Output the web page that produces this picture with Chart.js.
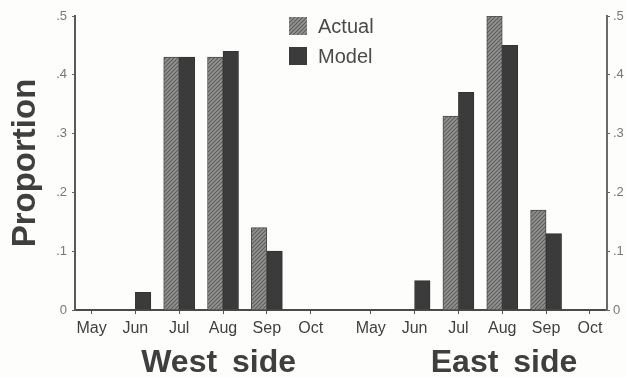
<!DOCTYPE html>
<html>
<head>
<meta charset="utf-8">
<script src="https://cdn.jsdelivr.net/npm/chart.js@4"></script>
<style>
    html, body { margin: 0; padding: 0; background: #fdfdfc; }
    #wrap { position: relative; width: 626px; height: 377px; }
</style>
</head>
<body>
<div id="wrap"><canvas id="chart" width="626" height="377"></canvas></div>
<script>
const months = ["May", "Jun", "Jul", "Aug", "Sep", "Oct"];
const westActual = [0, 0, 0.43, 0.43, 0.14, 0];
const westModel = [0, 0.03, 0.43, 0.44, 0.10, 0];
const eastActual = [0, 0, 0.33, 0.50, 0.17, 0];
const eastModel = [0, 0.05, 0.37, 0.45, 0.13, 0];
const panelTitles = ["West side", "East side"];

const FONT = '"Liberation Sans", Arial, sans-serif';
// the east months start a bit more than one slot after the west ones
const EAST_SHIFT = 6.37;
const labels = months.concat(months);
const slots = months.map((m, i) => i).concat(months.map((m, i) => i + EAST_SHIFT));

function hatch() {
    const c = document.createElement("canvas");
    c.width = 4;
    c.height = 4;
    const g = c.getContext("2d");
    g.fillStyle = "#939391";
    g.fillRect(0, 0, 4, 4);
    g.strokeStyle = "#5c5c5c";
    g.lineWidth = 1.1;
    g.beginPath();
    g.moveTo(-1, 1);
    g.lineTo(1, -1);
    g.moveTo(-1, 5);
    g.lineTo(5, -1);
    g.moveTo(3, 5);
    g.lineTo(5, 3);
    g.stroke();
    return g.createPattern(c, "repeat");
}

const hatchFill = hatch();

function series(west, east) {
    return west.concat(east).map((v, i) => ({ x: slots[i], y: v }));
}

const sideText = {
    id: "sideText",
    afterDraw(chart) {
        const { ctx, scales } = chart;
        ctx.save();
        ctx.fillStyle = "#3f3f3f";
        ctx.textBaseline = "alphabetic";
        ctx.textAlign = "center";
        ctx.font = "bold 32px " + FONT;
        ctx.wordSpacing = "6px";
        ctx.fillText(panelTitles[0], scales.x.getPixelForValue(2.9), 372);
        ctx.fillText(panelTitles[1], scales.x.getPixelForValue(EAST_SHIFT + 3.04), 372);
        ctx.wordSpacing = "0px";

        // legend sits inside the plot, one row per series
        chart.data.datasets.forEach((ds, i) => {
            const y = 17 + i * 30;
            ctx.fillStyle = ds.backgroundColor;
            ctx.fillRect(289, y, 18, 18);
            ctx.fillStyle = "#4a4a4a";
            ctx.textAlign = "left";
            ctx.font = "20px " + FONT;
            ctx.fillText(ds.label, 318, y + 16);
        });
        ctx.restore();
    }
};

function proportionTick(v) {
    return v === 0 ? "0" : "." + Math.round(v * 10);
}

new Chart(document.getElementById("chart"), {
    type: "bar",
    data: {
        datasets: [
            {
                label: "Actual",
                data: series(westActual, eastActual),
                backgroundColor: hatchFill,
                borderColor: "#4a4a4a",
                borderWidth: 1,
                barThickness: 15.5
            },
            {
                label: "Model",
                data: series(westModel, eastModel),
                backgroundColor: "#3b3b3b",
                borderColor: "#333333",
                borderWidth: 1,
                barThickness: 15.5
            }
        ]
    },
    options: {
        responsive: false,
        animation: false,
        layout: { padding: { top: 16, left: 0, right: 0, bottom: 0 } },
        plugins: {
            legend: { display: false },
            tooltip: { enabled: false }
        },
        scales: {
            x: {
                type: "linear",
                offset: false,
                min: -0.377,
                max: 11.76,
                afterBuildTicks(scale) {
                    scale.ticks = slots.map(v => ({ value: v }));
                },
                afterFit(scale) {
                    scale.height = 67;
                },
                grid: { offset: false, drawOnChartArea: false, tickLength: 4, tickColor: "#555555" },
                border: { color: "#4a4a4a", width: 2 },
                ticks: {
                    autoSkip: false,
                    maxRotation: 0,
                    padding: 5,
                    color: "#3f3f3f",
                    font: { family: FONT, size: 16 },
                    callback: (v, i) => labels[i]
                }
            },
            y: {
                position: "left",
                min: 0,
                max: 0.5,
                afterFit(scale) {
                    scale.width = 75;
                },
                title: {
                    display: true,
                    text: "Proportion",
                    color: "#3f3f3f",
                    font: { family: FONT, size: 33, weight: "bold" },
                    padding: { top: 6, bottom: 0 }
                },
                grid: { drawOnChartArea: false, tickLength: 3, tickColor: "#666666" },
                border: { color: "#5a5a5a", width: 2 },
                ticks: {
                    stepSize: 0.1,
                    padding: 5,
                    color: "#777777",
                    font: { family: FONT, size: 13 },
                    callback: proportionTick
                }
            },
            yRight: {
                position: "right",
                min: 0,
                max: 0.5,
                afterFit(scale) {
                    scale.width = 19;
                },
                grid: { drawOnChartArea: false, tickLength: 3, tickColor: "#666666" },
                border: { color: "#6a6a6a", width: 2 },
                ticks: {
                    stepSize: 0.1,
                    padding: 3,
                    color: "#777777",
                    font: { family: FONT, size: 13 },
                    callback: proportionTick
                }
            }
        }
    },
    plugins: [sideText]
});
</script>
</body>
</html>
